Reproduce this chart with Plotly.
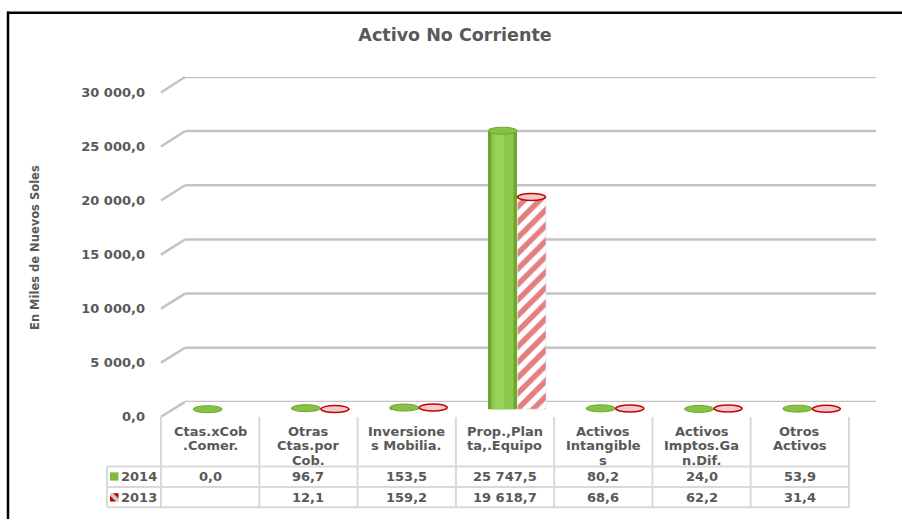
import plotly.graph_objects as go

# ---------------- data ----------------
categories = ["Ctas.xCob.Comer.", "Otras Ctas.por Cob.", "Inversiones Mobilia.",
              "Prop.,Planta,.Equipo", "Activos Intangibles", "Activos Imptos.Gan.Dif.",
              "Otros Activos"]
header_labels = ["Ctas.xCob<br>.Comer.", "Otras<br>Ctas.por<br>Cob.", "Inversione<br>s Mobilia.",
                 "Prop.,Plan<br>ta,.Equipo", "Activos<br>Intangible<br>s",
                 "Activos<br>Imptos.Ga<br>n.Dif.", "Otros<br>Activos"]
series_names = ["2014", "2013"]
v2014 = [0.0, 96.7, 153.5, 25747.5, 80.2, 24.0, 53.9]
v2013 = [None, 12.1, 159.2, 19618.7, 68.6, 62.2, 31.4]
y_ticks = [0, 5000, 10000, 15000, 20000, 25000, 30000]
title_text = "Activo No Corriente"
y_title = "En Miles de Nuevos Soles"

# ---------------- geometry helpers ----------------
W, H = 902, 527
def X(px):
    return px / W
def Y(py):
    return 1 - py / H

YMAX = 30000
FONT = "DejaVu Sans"
TXT = "#595959"
GRID = "#C3C3C3"

front = (421.7, 88.0)
back = (406.5, 72.0)
mid = (414.0, 80.0)
ppu = (mid[0] - mid[1]) / YMAX
YMIN_MID = -1000
mid_bottom_px = mid[0] + (-YMIN_MID) * ppu

def front_paper(v):
    return Y(front[0] - v * (front[0] - front[1]) / YMAX)
def back_paper(v):
    return Y(back[0] - v * (back[0] - back[1]) / YMAX)

idx = list(range(len(categories)))
BW = 0.295

fig = go.Figure()

# 2014 cylinders (shaded body)
fig.add_trace(go.Bar(x=idx, y=v2014, offset=-BW, width=BW, name=series_names[0],
                     marker=dict(color="#6EA52C", line=dict(width=0)),
                     showlegend=False, hoverinfo="skip"))
fig.add_trace(go.Bar(x=idx, y=v2014, offset=-BW + 0.035, width=BW - 0.07, name=series_names[0],
                     marker=dict(color="#8CC84B", line=dict(width=0)),
                     showlegend=False, hoverinfo="skip"))
fig.add_trace(go.Bar(x=idx, y=v2014, offset=-BW + 0.07, width=0.09, name=series_names[0],
                     marker=dict(color="#98D458", line=dict(width=0)),
                     showlegend=False, hoverinfo="skip"))
# 2013 striped cylinders
fig.add_trace(go.Bar(x=idx, y=v2013, offset=0.004, width=BW - 0.004, name=series_names[1],
                     marker=dict(color="#CC0000",
                                 pattern=dict(shape="/", fgcolor="#C80000", bgcolor="white",
                                              size=11, solidity=0.5),
                                 line=dict(width=0.6, color="#E0E0E0")),
                     showlegend=False, hoverinfo="skip"))
fig.add_trace(go.Scatter(x=[None], y=[None], xaxis="x", yaxis="y3", showlegend=False,
                         hoverinfo="skip"))

shapes = []
for v in y_ticks:
    shapes.append(dict(type="line", xref="x2 domain", yref="y2", x0=0, x1=1, y0=v, y1=v,
                       line=dict(color=GRID, width=2.5), layer="below"))
    shapes.append(dict(type="line", xref="paper", yref="paper", x0=X(161), x1=X(185),
                       y0=front_paper(v), y1=back_paper(v),
                       line=dict(color=GRID, width=2.5), layer="below"))

for i, v in zip(idx, v2014):
    if v is None:
        continue
    shapes.append(dict(type="circle", xref="x", yref="y", xsizemode="pixel", ysizemode="pixel",
                       xanchor=i - BW / 2, yanchor=v, x0=-14.5, x1=14.5, y0=-3.5, y1=3.5,
                       fillcolor="#86C245", line=dict(color="#6EA52C", width=1)))
for i, v in zip(idx, v2013):
    if v is None:
        continue
    shapes.append(dict(type="circle", xref="x", yref="y", xsizemode="pixel", ysizemode="pixel",
                       xanchor=i + BW / 2, yanchor=v, x0=-14, x1=14, y0=-3.5, y1=3.5,
                       fillcolor="#F2CCCC", line=dict(color="#C80000", width=1.5)))

# ---------------- data table ----------------
t_left, t_c0, t_right = 107, 161, 849
t_top, t_h1, t_h2, t_bot = 422, 473, 494, 515
ncol = len(categories)
cw = (t_right - t_c0) / ncol
TL = "#D9D9D9"
for k in range(ncol + 1):
    xx = t_c0 + k * cw
    shapes.append(dict(type="line", xref="paper", yref="paper", x0=X(xx), x1=X(xx),
                       y0=Y(t_top), y1=Y(t_bot), line=dict(color=TL, width=2)))
shapes.append(dict(type="line", xref="paper", yref="paper", x0=X(t_left), x1=X(t_left),
                   y0=Y(t_h1), y1=Y(t_bot), line=dict(color=TL, width=2)))
for yy in (t_h1, t_h2, t_bot):
    shapes.append(dict(type="line", xref="paper", yref="paper", x0=X(t_left), x1=X(t_right),
                       y0=Y(yy), y1=Y(yy), line=dict(color=TL, width=2)))

# legend keys
shapes.append(dict(type="rect", xref="paper", yref="paper", x0=X(110), x1=X(118.5),
                   y0=Y(487.5), y1=Y(479), fillcolor="#7DBB3C", line=dict(width=0)))
shapes.append(dict(type="rect", xref="paper", yref="paper", x0=X(110), x1=X(118.5),
                   y0=Y(509), y1=Y(500.5), fillcolor="#C8C8C8", line=dict(width=0)))
shapes.append(dict(type="path", xref="paper", yref="paper",
                   path=f"M {X(110)},{Y(509)} L {X(110)},{Y(503)} L {X(116)},{Y(509)} Z",
                   fillcolor="#C80000", line=dict(width=0)))
shapes.append(dict(type="path", xref="paper", yref="paper",
                   path=f"M {X(113)},{Y(500.5)} L {X(118.5)},{Y(500.5)} L {X(118.5)},{Y(506)} Z",
                   fillcolor="#C80000", line=dict(width=0)))

# outer frame (left + top edges)
shapes.append(dict(type="line", xref="paper", yref="paper", x0=X(8), x1=X(8), y0=Y(5), y1=Y(527),
                   line=dict(color="black", width=2.5)))
shapes.append(dict(type="line", xref="paper", yref="paper", x0=X(7), x1=X(902), y0=Y(6), y1=Y(6),
                   line=dict(color="black", width=2.5)))


def fmt(v):
    if v is None:
        return ""
    return f"{v:,.1f}".replace(",", " ").replace(".", ",")

BOLD = dict(family=FONT, size=13, color=TXT, weight="bold")
annotations = []
LINE_H = 14.8
for k, lab in enumerate(header_labels):
    for j, part in enumerate(lab.split("<br>")):
        annotations.append(dict(text=part, xref="paper", yref="paper",
                                x=X(t_c0 + (k + 0.5) * cw), y=Y(437 + j * LINE_H),
                                xanchor="center", yanchor="middle", showarrow=False,
                                font=BOLD))
rows = [v2014, v2013]
row_y = [(t_h1 + t_h2) / 2, (t_h2 + t_bot) / 2]
for r, vals in enumerate(rows):
    annotations.append(dict(text=series_names[r], xref="paper", yref="paper", x=X(119),
                            y=Y(row_y[r]), xanchor="left", yanchor="middle", showarrow=False,
                            font=BOLD))
    for k, v in enumerate(vals):
        annotations.append(dict(text=fmt(v), xref="paper", yref="paper",
                                x=X(t_c0 + (k + 0.5) * cw), y=Y(row_y[r]),
                                xanchor="center", yanchor="middle", showarrow=False,
                                font=BOLD))
annotations.append(dict(text=y_title, xref="paper", yref="paper", x=X(35), y=Y(248),
                        textangle=-90, xanchor="center", yanchor="middle", showarrow=False,
                        font=dict(family=FONT, size=11.5, color=TXT, weight="bold")))

fig.update_layout(
    width=W, height=H,
    margin=dict(l=0, r=0, t=0, b=0),
    paper_bgcolor="white", plot_bgcolor="rgba(0,0,0,0)",
    separators=", ",
    barmode="overlay",
    showlegend=False,
    title=dict(text=title_text, x=X(455), xanchor="center", y=Y(35), yanchor="middle",
               font=dict(family=FONT, size=17.5, color=TXT, weight="bold")),
    font=dict(family=FONT, color=TXT),
    xaxis=dict(domain=[X(173), X(861)], range=[-0.5, 6.5], visible=False, fixedrange=True),
    yaxis=dict(domain=[Y(mid_bottom_px), Y(mid[1])], range=[YMIN_MID, YMAX], visible=False),
    xaxis2=dict(domain=[X(185), X(876)], range=[0, 1], visible=False, anchor="y2"),
    yaxis2=dict(domain=[Y(back[0]), Y(back[1])], range=[0, YMAX], visible=False, anchor="x2"),
    yaxis3=dict(domain=[Y(front[0]), Y(front[1])], range=[0, YMAX], anchor="free",
                position=X(145), side="left", showgrid=False, zeroline=False, showline=False,
                ticks="", tickvals=y_ticks, tickformat=",.1f",
                tickfont=dict(family=FONT, size=13, color=TXT, weight="bold")),
    shapes=shapes,
    annotations=annotations,
)

fig.write_html("out.html", config={"displayModeBar": False},
               post_script="document.body.style.margin='0';document.body.style.overflow='hidden';")
